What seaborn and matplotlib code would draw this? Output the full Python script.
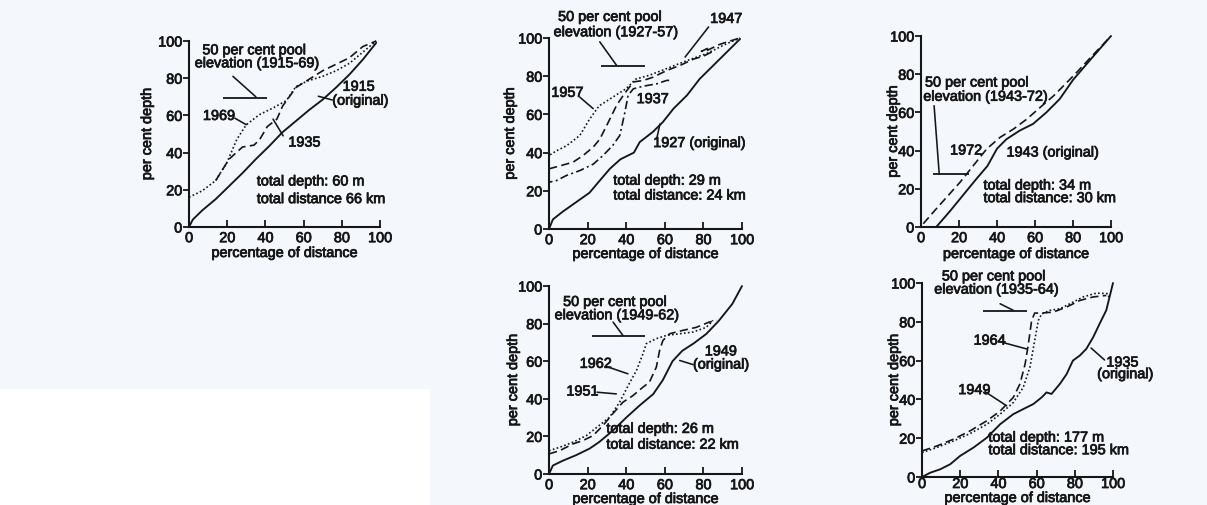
import numpy as np
import pandas as pd
import matplotlib
matplotlib.use("Agg")
import matplotlib.pyplot as plt
import matplotlib.patheffects as pe
import seaborn as sns
from matplotlib.patches import Rectangle

# ---------------- data (percent of distance, percent of depth) ----------------
# Panel A : 1915-69
a_orig_x = [0, 2, 7, 14, 21, 28, 35, 42, 49, 56, 63, 70, 77, 84, 91, 98]
a_orig_y = [0, 4, 9, 15, 22, 29, 36.5, 43.5, 51, 57, 63, 68.5, 75, 82, 90, 99]
a_1969_x = [0, 7, 14, 20, 25, 30, 37, 44, 51, 56, 62, 70, 77, 84, 91, 98]
a_1969_y = [16, 19.5, 25, 35, 47, 55, 60.5, 64, 68, 75.5, 78.5, 81, 84, 88, 94, 100]
a_1935_x = [14, 21, 28, 34, 37, 41, 46, 49, 56, 63, 70, 77, 84, 91, 98]
a_1935_y = [25, 36.5, 43, 44, 47, 54, 58, 65, 75, 79.5, 84, 87.5, 91, 97, 100]

# Panel B : 1927-57
b_orig_x = [0, 2, 7, 14, 21, 26, 31.5, 37, 44, 47, 54, 59, 64.5, 71.5, 78, 85, 92, 99]
b_orig_y = [0, 5, 9, 14, 19, 25, 31.5, 36.5, 40, 45.5, 51, 56, 63, 70, 78.5, 85.5, 92.5, 99.5]
b_1957_x = [0, 0, 4, 9, 16, 21, 26, 33, 40, 45, 52, 61, 71, 82, 92, 99]
b_1957_y = [35, 38.5, 41, 43.5, 49, 57.5, 64.5, 69, 73.5, 78.5, 80.5, 84, 88, 92, 97, 100]
b_1947_x = [0, 5.5, 12.5, 17.7, 23, 26.3, 29.8, 35, 38.5, 43.7, 49, 54, 61, 68, 75, 80, 84, 82, 79, 82, 88, 94, 99]
b_1947_y = [31.5, 33, 35, 38.5, 43, 47, 54, 64.7, 70, 77, 77.8, 79.5, 83, 85.7, 89, 90.5, 92.5, 94.5, 93, 93.5, 96.5, 98.5, 100]
b_1937_x = [0, 0, 3.8, 9, 16, 23, 28, 33, 36.7, 39.3, 41, 43.7, 49, 55.8, 61, 62.7]
b_1937_y = [22, 24.5, 25.3, 28, 30.6, 34, 38.5, 43.7, 49, 61, 70, 73.4, 74.8, 76, 77.8, 77.8]

# Panel C : 1943-72
c_orig_x = [8, 15, 22, 29, 35, 40, 45, 52, 59, 66, 73, 80, 89.5, 100]
c_orig_y = [0, 8, 16.5, 25, 32, 41, 46, 50.5, 54, 60, 67, 77, 88, 100]
c_1972_x = [1.2, 6.5, 13.5, 20.6, 27.6, 34.6, 41.7, 48.7, 55.7, 62.7, 69.8, 76.8, 82, 89.5, 100]
c_1972_y = [1.7, 7.8, 15.6, 23.5, 32.2, 40.9, 47, 51.3, 56.5, 62.6, 68.7, 75.7, 81, 89, 100]

# Panel D : 1949-62
d_orig_x = [0, 2, 7, 14, 21, 26, 33, 40, 47, 54, 59, 64, 69, 75, 81.5, 88, 95, 100]
d_orig_y = [0, 4.5, 7, 10, 13.5, 17, 23, 30, 36.5, 42.5, 50, 60, 65.5, 69.5, 74.5, 81.5, 90.5, 100]
d_1962_x = [0, 5.5, 12.4, 19.3, 26, 31.4, 36.6, 41, 45.3, 48.7, 50.4, 55.6, 60.8, 67.7, 74.6, 81.5, 85]
d_1962_y = [12.4, 14.2, 16.9, 20.4, 25.8, 30.2, 38.2, 47, 55, 64, 69.3, 72, 73.7, 74.6, 75.5, 78, 81.7]
d_1951_x = [0, 5.5, 12.4, 17.6, 22.8, 28, 33, 38.3, 43.5, 48.7, 52, 55.6, 57.3, 59, 62.5, 69.4, 76.3, 83, 86.7]
d_1951_y = [10.7, 12.4, 16, 17.8, 20.4, 25.8, 32, 38.2, 41.7, 46.2, 48.8, 56.8, 65.7, 71, 74.6, 76.4, 78, 80.8, 81.7]

# Panel E : 1935-64
e_orig_x = [0, 4.3, 9.6, 14.8, 20, 27, 34, 40.9, 47.8, 54.8, 58.3, 62.6, 65.2, 67.8, 72.2, 75.7, 79, 82.6, 86, 89.6, 93, 96.5, 99, 100]
e_orig_y = [0, 2.2, 4, 6.6, 10.9, 15.2, 20.3, 27.2, 32.4, 35.9, 37.6, 41, 43.6, 42.8, 48, 53, 60, 62.6, 66, 72, 79, 86, 96, 100]
e_1964_x = [0, 7.8, 16.5, 25.2, 34, 40.9, 47.8, 51.3, 54, 55.7, 57.4, 59, 62.6, 68.7, 75.7, 82.6, 89.6, 96.5]
e_1964_y = [13.4, 16, 19.5, 23.8, 29, 34, 41, 48, 58.3, 68.6, 80.7, 84.5, 84.5, 85, 87.6, 91, 92.8, 93.6]
e_1949_x = [0, 7.8, 16.5, 25.2, 34, 40.9, 47.8, 53, 56.5, 59, 60.9, 62.6, 67, 72.2, 77.4, 84.3, 91.3, 97.4, 98]
e_1949_y = [12.6, 15.2, 18.6, 22.4, 27.2, 32.4, 38.4, 46.2, 56.6, 70.3, 80.7, 84, 85.9, 86.7, 89.3, 92.8, 94.8, 94.5, 92]

# 50 per cent pool elevations (per cent depth)
pool_levels = [69.6, 85.3, 27.6, 73.2, 85.5]
pool_periods = ["1915-69", "1927-57", "1943-72", "1949-62", "1935-64"]
total_depths = ["total depth: 60 m", "total depth: 29 m", "total depth: 34 m",
                "total depth: 26 m", "total depth: 177 m"]
total_dists = ["total distance 66 km", "total distance: 24 km", "total distance: 30 km",
               "total distance: 22 km", "total distance: 195 km"]
ticks = [0, 20, 40, 60, 80, 100]

# ---------------- styling ----------------
sns.set_style("ticks")
plt.rcParams["font.family"] = ["Liberation Sans", "DejaVu Sans"]
INK = "#161616"
FS = 10.4
W, H = 1207, 506
fig = plt.figure(figsize=(W / 100, H / 100), dpi=100)
fig.patch.set_facecolor("#f4f7fc")
fig.patches.append(Rectangle((0, 0), 430 / W, 116 / H, transform=fig.transFigure,
                             facecolor="white", edgecolor="none", zorder=0.5))
BOLD = [pe.withStroke(linewidth=0.55, foreground=INK)]

SOLID = "-"
DASH = (0, (5, 2.6))
DOT = (0, (1, 1.4))
DASHDOT = (0, (5, 2, 1.2, 2))

# axes rectangles in pixels: (left, top, right, bottom)
boxes = [(189, 42, 380, 228), (549, 39, 742, 230), (921, 37, 1111, 228),
         (549, 287, 742, 475), (922, 284, 1113, 478)]
ylab_off = [42, 39, 28, 36, 28]
xlab_off = [26, 25, 27, 25, 21]
xpad = [3, 3, 3, 3, 0]

panels = [
    [(a_orig_x, a_orig_y, SOLID), (a_1969_x, a_1969_y, DOT), (a_1935_x, a_1935_y, DASH)],
    [(b_orig_x, b_orig_y, SOLID), (b_1957_x, b_1957_y, DOT), (b_1947_x, b_1947_y, DASH),
     (b_1937_x, b_1937_y, DASHDOT)],
    [(c_orig_x, c_orig_y, SOLID), (c_1972_x, c_1972_y, DASH)],
    [(d_orig_x, d_orig_y, SOLID), (d_1962_x, d_1962_y, DOT), (d_1951_x, d_1951_y, DASH)],
    [(e_orig_x, e_orig_y, SOLID), (e_1964_x, e_1964_y, DASH), (e_1949_x, e_1949_y, DOT)],
]

# annotation layout per panel (positions of labels in data units)
layout = [
    dict(pool_txt=(7, 95, 3, 88), pool_x=(18, 41), pool_lead=((23, 81), (35, 70)),
         tot=(35.5, 24.5, 15),
         labels=[("1969", 7.3, 59.7, (24, 58.5), (30, 55)),
                 ("1935", 52, 45.4, (49.3, 49), (44, 58)),
                 ("1915", 80.4, 75.4, None, None),
                 ("(original)", 75, 67.9, (75, 68.3), (67.7, 70.3))]),
    dict(pool_txt=(4.7, 111, 2.4, 103), pool_x=(26.7, 49.7), pool_lead=((26.3, 98), (35, 85.7)),
         tot=(33.3, 25.3, 17.5),
         labels=[("1947", 83.5, 110, (82.7, 105.8), (70.5, 90)),
                 ("1957", 1.2, 71.3, (16, 69), (22.9, 63)),
                 ("1937", 45.4, 68, None, None),
                 ("1927 (original)", 54, 45, (55.8, 47.2), (57.5, 55))]),
    dict(pool_txt=(2.1, 75.6, 1.2, 68.2), pool_x=(6.5, 25), pool_lead=((6.9, 63.5), (9.6, 27.6)),
         tot=(32.9, 21.7, 15.1),
         labels=[("1972", 15.3, 40, None, None),
                 ("1943 (original)", 45, 39, None, None)]),
    dict(pool_txt=(7.3, 91.5, 2.9, 84.4), pool_x=(22.5, 49.6), pool_lead=((33.2, 80.8), (38.3, 73.7)),
         tot=(29.7, 24, 15.6),
         labels=[("1962", 15.9, 58.6, (29.7, 57.2), (40.9, 53.3)),
                 ("1951", 9, 43.9, (24.9, 43.5), (34.9, 42.6)),
                 ("1949", 80.7, 65.2, None, None),
                 ("(original)", 74.6, 58.2, (74.6, 58.2), (67.7, 60.4))]),
    dict(pool_txt=(10.4, 103.4, 6.4, 96.6), pool_x=(31.8, 54.8), pool_lead=((40.9, 89.3), (47.8, 85.9)),
         tot=(34.8, 20.3, 13.8),
         labels=[("1964", 27, 70.3, (41.7, 69.5), (54.8, 66)),
                 ("1949", 19, 44.8, (33, 44), (44.3, 36.7)),
                 ("1935", 96.5, 59, (95.6, 60.3), (88.5, 66.5)),
                 ("(original)", 91.7, 53, None, None)]),
]


def put(ax, x, y, s):
    ax.text(x, y, s, fontsize=FS, color=INK, va="center", ha="left", path_effects=BOLD)


for k, (box, series, lay) in enumerate(zip(boxes, panels, layout)):
    l, t, r, b = box
    ax = fig.add_axes([l / W, 1 - b / H, (r - l) / W, (b - t) / H])
    ax.set_facecolor("none")
    for xs, ys, ls in series:
        df = pd.DataFrame({"x": xs, "y": ys})
        sns.lineplot(data=df, x="x", y="y", ax=ax, color=INK, sort=False, estimator=None,
                     linestyle=ls, lw=1.35 if ls == SOLID else 1.2, clip_on=False)
    ax.set_xlim(0, 100)
    ax.set_ylim(0, 100)
    ax.set_xticks(ticks)
    ax.set_yticks(ticks)
    for sp in ("top", "right"):
        ax.spines[sp].set_visible(False)
    for sp in ("left", "bottom"):
        ax.spines[sp].set_linewidth(1.5)
        ax.spines[sp].set_color(INK)
    ax.tick_params(axis="x", direction="in", length=5, width=1.3, color=INK,
                   labelsize=FS, labelcolor=INK, pad=xpad[k])
    ax.tick_params(axis="y", direction="out", length=4, width=1.3, color=INK,
                   labelsize=FS, labelcolor=INK, pad=1)
    for lab in ax.get_xticklabels() + ax.get_yticklabels():
        lab.set_path_effects(BOLD)
    ax.set_xlabel("percentage of distance", fontsize=FS, color=INK, path_effects=BOLD)
    ax.set_ylabel("per cent depth", fontsize=FS, color=INK, path_effects=BOLD)
    ax.xaxis.set_label_coords(0.5, -xlab_off[k] / (b - t))
    ax.xaxis.label.set_va("center")
    ax.yaxis.set_label_coords(-ylab_off[k] / (r - l), 0.5)
    ax.yaxis.label.set_va("center")

    # pool elevation marker
    x1, y1, x2, y2 = lay["pool_txt"]
    put(ax, x1, y1, "50 per cent pool")
    put(ax, x2, y2, "elevation (" + pool_periods[k] + ")")
    ax.hlines(pool_levels[k], lay["pool_x"][0], lay["pool_x"][1], color=INK, lw=1.3,
              clip_on=False)
    (sx, sy), (ex, ey) = lay["pool_lead"]
    ax.annotate("", xy=(ex, ey), xytext=(sx, sy),
                arrowprops=dict(arrowstyle="-", lw=1.15, color=INK, shrinkA=0, shrinkB=0),
                annotation_clip=False)
    tx, ty1, ty2 = lay["tot"]
    put(ax, tx, ty1, total_depths[k])
    put(ax, tx, ty2, total_dists[k])
    for txt, lx, ly, s, e in lay["labels"]:
        put(ax, lx, ly, txt)
        if s is not None:
            ax.annotate("", xy=e, xytext=s,
                        arrowprops=dict(arrowstyle="-", lw=1.15, color=INK,
                                        shrinkA=0, shrinkB=0),
                        annotation_clip=False)

fig.savefig("out.png", dpi=100, facecolor=fig.get_facecolor())
